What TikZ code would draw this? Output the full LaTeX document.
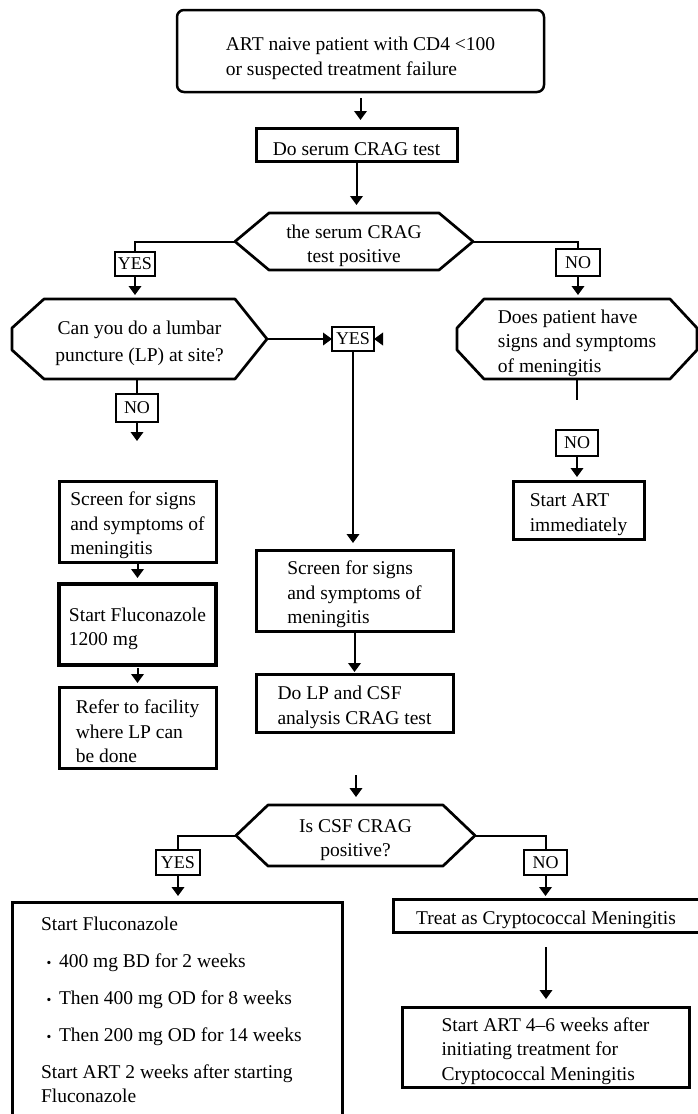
\documentclass[tikz,border=0pt]{standalone}
\usepackage{fontspec}
\setmainfont{Liberation Serif}
\usetikzlibrary{arrows.meta}

% Hexagonal decision frame drawn around a (borderless) node:
% #1 node name, #2 slant width, #3 / #4 half length of the left / right vertical side
\newcommand\hexframe[4]{%
  \draw[hexline] ([xshift=#2]#1.north west) -- ([xshift=-#2]#1.north east)
    -- ([yshift=#4]#1.east) -- ([yshift=-#4]#1.east)
    -- ([xshift=-#2]#1.south east) -- ([xshift=#2]#1.south west)
    -- ([yshift=-#3]#1.west) -- ([yshift=#3]#1.west) -- cycle;}
% invisible strut on a first line: lowers a centred text block a little
\newcommand\tall[1][22pt]{\rule{0pt}{#1}}

\begin{document}
\begin{tikzpicture}[x=1pt,y=-1pt,
  txt/.style={font=\fontsize{19.5}{24.5}\selectfont},
  frame/.style={draw, txt, line width=3pt, rectangle, inner sep=0pt, outer sep=0pt, align=left},
  tag/.style={draw, font=\fontsize{18}{20}\selectfont, line width=2.6pt, inner sep=0pt, outer sep=0pt},
  hexnode/.style={txt, rectangle, inner sep=0pt, outer sep=0pt, align=center},
  hexline/.style={line width=2.7pt, line join=round},
  boxline/.style={line width=3pt},
  conn/.style={line width=2pt},
  arr/.style={conn, -{Triangle[length=9pt,width=12.5pt]}}
]
\fill[white] (0,0) rectangle (698,1114);
\useasboundingbox (0,0) rectangle (698,1114);
\clip (0,0) rectangle (698,1114);

% ---- entry
\node[frame, rounded corners=7pt, line width=2.5pt, minimum width=367pt, minimum height=82pt]
  (start) at (360.5,51) {\tall[28pt]ART naive patient with CD4 <100\\or suspected treatment failure};
\node[frame, align=center, minimum width=201pt, minimum height=33pt]
  (serum) at (356.5,144.5) {\tall Do serum CRAG test};

% ---- first decision
\node[hexnode, minimum width=238pt, minimum height=57pt] (q1) at (354,241.5) {\tall the serum CRAG\\test positive};
\hexframe{q1}{34}{0}{0}
\node[tag, minimum width=40pt, minimum height=24pt] (yes1) at (135,264) {YES};
\node[tag, minimum width=44pt, minimum height=27pt] (no1) at (578,262.5) {NO};

% ---- lumbar puncture question
\node[hexnode, minimum width=255pt, minimum height=80pt] (q2) at (139.5,339)
  {\tall Can you do a lumbar\\[3pt]puncture (LP) at site?};
\hexframe{q2}{32}{11}{0}
\node[tag, minimum width=42pt, minimum height=24pt] (yes2) at (353,339) {YES};
\node[tag, minimum width=42pt, minimum height=28pt] (no3) at (137,408) {NO};

% ---- meningitis signs question
\node[hexnode, align=left, minimum width=240pt, minimum height=80pt] (q3) at (577,339)
  {\tall Does patient have\\signs and symptoms\\of meningitis};
\hexframe{q3}{27}{11}{11}
\node[tag, minimum width=42pt, minimum height=26pt] (no2) at (577,443) {NO};
\node[frame, minimum width=131pt, minimum height=58pt] (art) at (578.5,510) {\tall Start ART\\immediately};

% ---- no LP on site
\node[frame, minimum width=157pt, minimum height=81pt] (scr1) at (137.5,521.5)
  {\tall Screen for signs\\and symptoms of\\meningitis};
\node[frame, line width=3.4pt, minimum width=157pt, minimum height=81pt] (flu) at (137.5,624.5)
  {\tall Start Fluconazole\\1200 mg};
\node[frame, minimum width=157pt, minimum height=81pt] (ref) at (137.5,727.5)
  {\tall Refer to facility\\where LP can\\be done};

% ---- LP on site
\node[frame, minimum width=197pt, minimum height=81pt] (scr2) at (354.5,590.5)
  {\tall Screen for signs\\and symptoms of\\meningitis};
\node[frame, minimum width=197pt, minimum height=58pt] (lp) at (354.5,703)
  {\tall Do LP and CSF\\analysis CRAG test};

% ---- CSF decision
\node[hexnode, minimum width=239pt, minimum height=61pt] (q4) at (355.5,835.5) {\tall Is CSF CRAG\\positive?};
\hexframe{q4}{32}{0}{0}
\node[tag, minimum width=44pt, minimum height=25pt] (yes3) at (178,862.5) {YES};
\node[tag, minimum width=43pt, minimum height=25pt] (no4) at (545.5,862.5) {NO};

% ---- treatment boxes
\node[anchor=north west, txt, align=left, inner xsep=29pt, inner ysep=14.5pt, outer sep=0pt] (flc) at (12,902)
  {Start Fluconazole\\[13pt]
   \makebox[16pt][c]{\scalebox{0.7}{•}}\hspace{2pt}400 mg BD for 2 weeks\\[12pt]
   \makebox[16pt][c]{\scalebox{0.7}{•}}\hspace{2pt}Then 400 mg OD for 8 weeks\\[13pt]
   \makebox[16pt][c]{\scalebox{0.7}{•}}\hspace{2pt}Then 200 mg OD for 14 weeks\\[12pt]
   Start ART 2 weeks after starting\\
   Fluconazole};
\draw[boxline] ([yshift=-240pt]flc.north west) -- (flc.north west)
  -- ([xshift=330pt]flc.north west) -- ([xshift=330pt,yshift=-240pt]flc.north west);

\node[frame, align=center, minimum width=306pt, minimum height=33pt] (treat) at (546,915.5)
  {\tall Treat as Cryptococcal Meningitis};
\node[frame, minimum width=287pt, minimum height=80pt] (late) at (545.5,1047)
  {\tall Start ART 4--6 weeks after\\initiating treatment for\\Cryptococcal Meningitis};

% ---- free ends of connectors
\coordinate (noend) at (137,441);
\coordinate (q3end) at (577,400);
\coordinate (csfin) at (356,775);
\coordinate (yesstub) at ([xshift=8pt]yes2.east);

% ---- connectors
\draw[arr, shorten <=6pt, shorten >=8pt] (start.south) -- (start.south |- serum.north);
\draw[arr, shorten >=8pt] (serum.south) -- (serum.south |- q1.north);
\draw[conn] (q1.west) -| (yes1.north);
\draw[arr, shorten >=4pt] (yes1.south) -- (yes1.south |- q2.north);
\draw[conn] (q1.east) -| (no1.north);
\draw[arr, shorten >=4pt] (no1.south) -- (no1.south |- q3.north);

\draw[arr] (q2.east) -- (yes2.west);
\draw[arr] (yesstub) -- (yes2.east);
\draw[arr, shorten >=7pt] (yes2.south) -- (yes2.south |- scr2.north);
\draw[conn] (no3.north |- q2.south) -- (no3.north);
\draw[arr] (no3.south) -- (noend);

\draw[conn] (q3.south) -- (q3end);
\draw[arr, shorten >=4pt] (no2.south) -- (no2.south |- art.north);

\draw[arr, shorten >=6pt] (scr1.south) -- (flu.north);
\draw[arr, shorten <=3pt, shorten >=4pt] (flu.south) -- (ref.north);
\draw[arr, shorten >=2pt] (scr2.south) -- (lp.north);

\draw[arr, shorten >=8pt] (csfin) -- (csfin |- q4.north);
\draw[conn] (q4.west) -| (yes3.north);
\draw[conn] (q4.east) -| (no4.north);
\draw[arr, shorten >=6pt] (yes3.south) -- (yes3.south |- flc.north);
\draw[arr, shorten >=3pt] (no4.south) -- (no4.south |- treat.north);
\draw[arr, shorten <=15pt, shorten >=8pt] (treat.south) -- (treat.south |- late.north);
\end{tikzpicture}
\end{document}
